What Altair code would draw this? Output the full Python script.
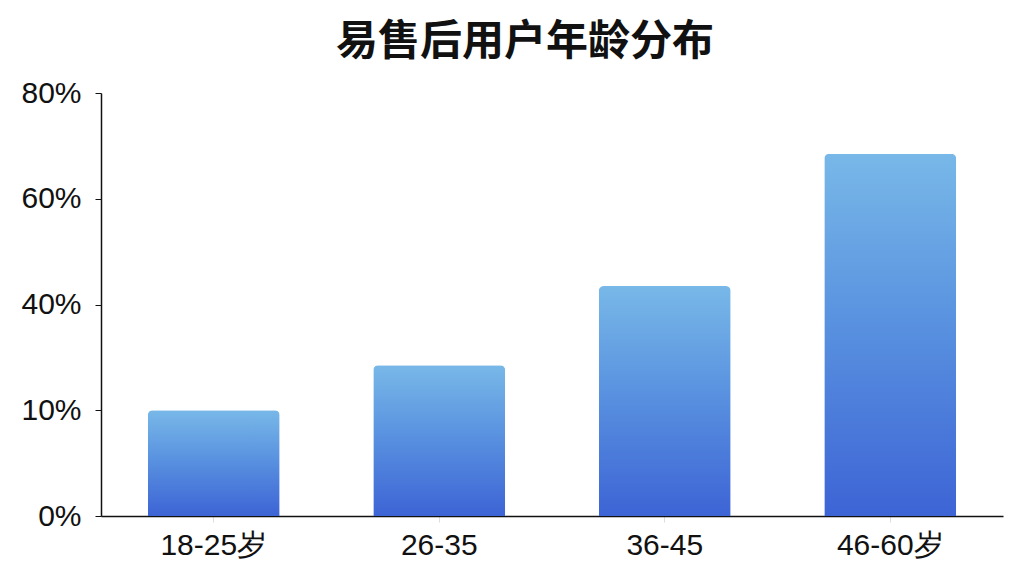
import altair as alt
import pandas as pd

categories = ["18-25岁", "26-35", "36-45", "46-60岁"]
values = [0.20, 0.285, 0.435, 0.685]
tick_values = [0, 0.2, 0.4, 0.6, 0.8]
tick_labels = ["0%", "10%", "40%", "60%", "80%"]

df = pd.DataFrame({"age": categories, "share": values})

label_expr = " : ".join(
    [f"abs(datum.value-{v})<0.001 ? '{l}'" for v, l in zip(tick_values, tick_labels)]
) + " : ''"

gradient = alt.Gradient(
    gradient="linear",
    x1=0, y1=0, x2=0, y2=1,
    stops=[
        alt.GradientStop(color="#78b8e8", offset=0),
        alt.GradientStop(color="#5a93e0", offset=0.45),
        alt.GradientStop(color="#3d64d5", offset=1),
    ],
)

chart = (
    alt.Chart(df)
    .mark_bar(color=gradient, cornerRadiusTopLeft=5, cornerRadiusTopRight=5)
    .encode(
        x=alt.X(
            "age:N",
            sort=categories,
            title=None,
            scale=alt.Scale(paddingInner=0.415, paddingOuter=0.2075),
            axis=alt.Axis(
                labelAngle=0,
                labelFont="Liberation Sans",
                labelFontSize=30,
                labelColor="#111111",
                labelPadding=8,
                domainColor="#111111",
                domainWidth=1.5,
                tickColor="#dddddd",
                tickSize=6,
                grid=False,
            ),
        ),
        y=alt.Y(
            "share:Q",
            title=None,
            scale=alt.Scale(domain=[0, 0.8], nice=False),
            axis=alt.Axis(
                values=tick_values,
                labelExpr=label_expr,
                labelFont="Liberation Sans",
                labelFontSize=30,
                labelColor="#111111",
                labelPadding=14,
                domainColor="#111111",
                domainWidth=1.5,
                tickColor="#111111",
                tickSize=6,
                grid=False,
            ),
        ),
    )
    .properties(
        width=902,
        height=423,
        title=alt.TitleParams(
            "易售后用户年龄分布",
            font="Noto Sans CJK SC",
            fontSize=42,
            fontWeight="bold",
            color="#111111",
            anchor="middle",
            offset=14,
            dx=-27,
        ),
        autosize=alt.AutoSizeParams(type="none"),
        padding={"left": 93, "top": 85, "right": 13, "bottom": 52},
    )
    .configure_view(stroke=None)
)

chart.save("out.html", embed_options={"renderer": "svg", "actions": False})
